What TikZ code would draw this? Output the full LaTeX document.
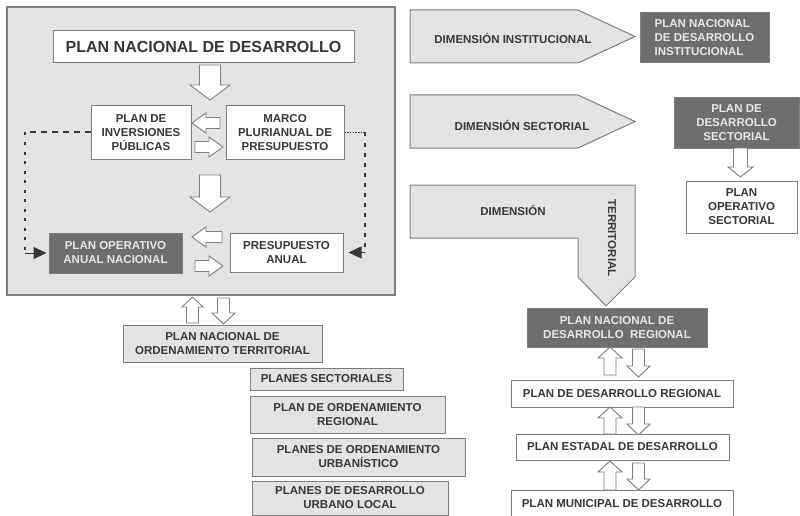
\documentclass[tikz,border=0pt]{standalone}
\usepackage{fontspec}
\setmainfont{Liberation Sans}
\usetikzlibrary{arrows.meta}
\definecolor{panelfill}{HTML}{E3E3E3}
\definecolor{darkfill}{HTML}{6E6E6E}
\definecolor{darktext}{HTML}{E6E6E6}
\definecolor{edgecol}{HTML}{7E7E7E}
\definecolor{inkcol}{HTML}{383838}
\newcommand\cbox[7]{%
  \pgfmathsetmacro\bxx{(#3+#5)/2}\pgfmathsetmacro\bxy{(#4+#6)/2}%
  \pgfmathsetmacro\bxw{#5-#3}\pgfmathsetmacro\bxh{#6-#4}%
  \node[#1,minimum width=\bxw pt,minimum height=\bxh pt] (#2) at (\bxx,\bxy) {#7};}
% block arrows: xc, ytop, ybot, halfwidth, shafthalf, headlen
\newcommand\blkdown[6]{\draw[blockarr] ({#1-#5},#2) -- ({#1+#5},#2) -- ({#1+#5},{#3-#6}) -- ({#1+#4},{#3-#6}) -- (#1,#3) -- ({#1-#4},{#3-#6}) -- ({#1-#5},{#3-#6}) -- cycle;}
\newcommand\blkup[6]{\draw[blockarr] ({#1-#5},#3) -- ({#1+#5},#3) -- ({#1+#5},{#2+#6}) -- ({#1+#4},{#2+#6}) -- (#1,#2) -- ({#1-#4},{#2+#6}) -- ({#1-#5},{#2+#6}) -- cycle;}
% yc, xtip, xtail, hw, sh, hl
\newcommand\blkleft[6]{\draw[blockarr] (#3,{#1-#5}) -- ({#2+#6},{#1-#5}) -- ({#2+#6},{#1-#4}) -- (#2,#1) -- ({#2+#6},{#1+#4}) -- ({#2+#6},{#1+#5}) -- (#3,{#1+#5}) -- cycle;}
% yc, xtail, xtip, hw, sh, hl
\newcommand\blkright[6]{\draw[blockarr] (#2,{#1-#5}) -- ({#3-#6},{#1-#5}) -- ({#3-#6},{#1-#4}) -- (#3,#1) -- ({#3-#6},{#1+#4}) -- ({#3-#6},{#1+#5}) -- (#2,{#1+#5}) -- cycle;}
\begin{document}
\begin{tikzpicture}[x=1pt,y=-1pt,
  txt/.style={font=\fontsize{11.5}{14}\selectfont\bfseries,text=inkcol,align=center,inner sep=0pt},
  whitebox/.style={txt,draw=edgecol,line width=1pt,fill=white},
  greybox/.style={txt,draw=edgecol,line width=1pt,fill=panelfill},
  darkbox/.style={txt,draw=edgecol,line width=1pt,fill=darkfill,text=darktext},
  blockarr/.style={draw=edgecol,line width=0.9pt,fill=white,line join=miter},
  dimshape/.style={draw=edgecol,line width=1pt,fill=panelfill},
  dashtip/.style={-{Triangle[length=13pt,width=12pt]},color=inkcol}]
\useasboundingbox (0,0) rectangle (800,516);
% main panel
\cbox{draw=edgecol,line width=1.4pt,fill=panelfill,inner sep=0pt}{panel}{7}{7}{395}{295}{}
\cbox{whitebox,font=\fontsize{16}{18}\selectfont\bfseries}{pnd}{53}{31}{354}{63}{PLAN NACIONAL DE DESARROLLO}
\cbox{whitebox}{pip}{91}{106}{191}{159}{PLAN DE\\INVERSIONES\\PÚBLICAS}
\cbox{whitebox}{mpp}{226}{106}{344}{159}{MARCO\\PLURIANUAL DE\\PRESUPUESTO}
\cbox{darkbox}{poan}{49}{233}{182}{273}{PLAN OPERATIVO\\ANUAL NACIONAL}
\cbox{whitebox}{pa}{230}{233}{343}{272}{PRESUPUESTO\\ANUAL}
\blkdown{210}{65}{100}{20}{10.5}{15}
\blkdown{210}{175}{212}{20}{10.5}{15}
\blkleft{123}{192}{220}{10}{5.5}{14}
\blkright{147}{195}{223}{10}{5.5}{14}
\blkleft{237}{192}{222}{10}{5.5}{14}
\blkright{266}{195}{223}{10}{5.5}{14}
% dashed feedback connectors
\coordinate (lc1) at (25,132.5);
\coordinate (lc2) at (25,253);
\draw[inkcol,line width=2pt,dash pattern=on 6pt off 5pt] (pip.west) -- (lc1);
\draw[inkcol,line width=2.2pt,dash pattern=on 3pt off 6.5pt] (lc1) -- (lc2);
\draw[dashtip,line width=1pt,shorten >=2pt] (lc2) -- (poan.west);
\coordinate (rc1) at (365,132.5);
\coordinate (rc2) at (365,252.5);
\draw[inkcol,line width=1.4pt,dash pattern=on 1.5pt off 1.2pt] (mpp.east) -- (rc1);
\draw[inkcol,line width=1.2pt,dash pattern=on 4pt off 6pt] (rc1) -- (rc2);
\draw[dashtip,line width=1pt,shorten >=5pt] (rc2) -- (pa.east);
% below panel
\blkup{192.5}{297}{323}{10.5}{6}{10}
\blkdown{223.5}{298}{324}{11.5}{6}{11}
\cbox{greybox}{pnot}{123}{325}{322}{362}{PLAN NACIONAL DE\\ORDENAMIENTO TERRITORIAL}
\cbox{greybox}{ps}{250}{368}{403}{390}{PLANES SECTORIALES}
\cbox{greybox}{por}{250}{396}{445}{433}{PLAN DE ORDENAMIENTO\\REGIONAL}
\cbox{greybox}{pou}{252}{438}{465}{476}{PLANES DE ORDENAMIENTO\\URBANÍSTICO}
\cbox{greybox}{pdul}{252}{481}{448}{515}{PLANES DE DESARROLLO\\URBANO LOCAL}
% dimensions
\draw[dimshape] (410,10) -- (578,10) -- (635,36.5) -- (578,63) -- (410,63) -- cycle;
\node[txt] (dinst) at (513,38) {DIMENSIÓN INSTITUCIONAL};
\draw[dimshape] (410,95) -- (578,95) -- (635,121.5) -- (578,148) -- (410,148) -- cycle;
\node[txt] (dsect) at (522,125) {DIMENSIÓN SECTORIAL};
\draw[dimshape] (410,185) -- (635,185) -- (635,277) -- (606,306) -- (578,277) -- (578,238) -- (410,238) -- cycle;
\node[txt] (dterr) at (513,210) {DIMENSIÓN};
\node[txt,rotate=-90] (dterr2) at (612,238) {TERRITORIAL};
\cbox{darkbox,align=left}{pndi}{640}{13}{769}{63}{PLAN NACIONAL\\DE DESARROLLO\\INSTITUCIONAL}
\cbox{darkbox}{pds}{674}{98}{799}{148}{PLAN DE\\DESARROLLO\\SECTORIAL}
\blkdown{740.5}{148}{177}{12.5}{7}{10}
\cbox{whitebox}{pos}{686}{181}{797}{233}{PLAN\\OPERATIVO\\SECTORIAL}
% regional chain
\cbox{darkbox}{pndr}{527}{308}{707}{347}{PLAN NACIONAL DE\\DESARROLLO\ \ REGIONAL}
\blkup{610}{347}{375}{12}{6}{11}
\blkdown{638.5}{349}{377}{11.5}{6}{11}
\cbox{whitebox}{pdr}{511}{380}{733}{407}{PLAN DE DESARROLLO REGIONAL}
\blkup{610}{407}{434}{12}{6}{11}
\blkdown{638.5}{407}{435}{11.5}{6}{11}
\cbox{whitebox}{ped}{516}{434}{729}{460}{PLAN ESTADAL DE DESARROLLO}
\blkup{610}{461}{490}{12}{6}{11}
\blkdown{638.5}{463}{490}{11.5}{6}{11}
\cbox{whitebox}{pmd}{511}{490}{733}{518}{PLAN MUNICIPAL DE DESARROLLO}
\end{tikzpicture}
\end{document}
